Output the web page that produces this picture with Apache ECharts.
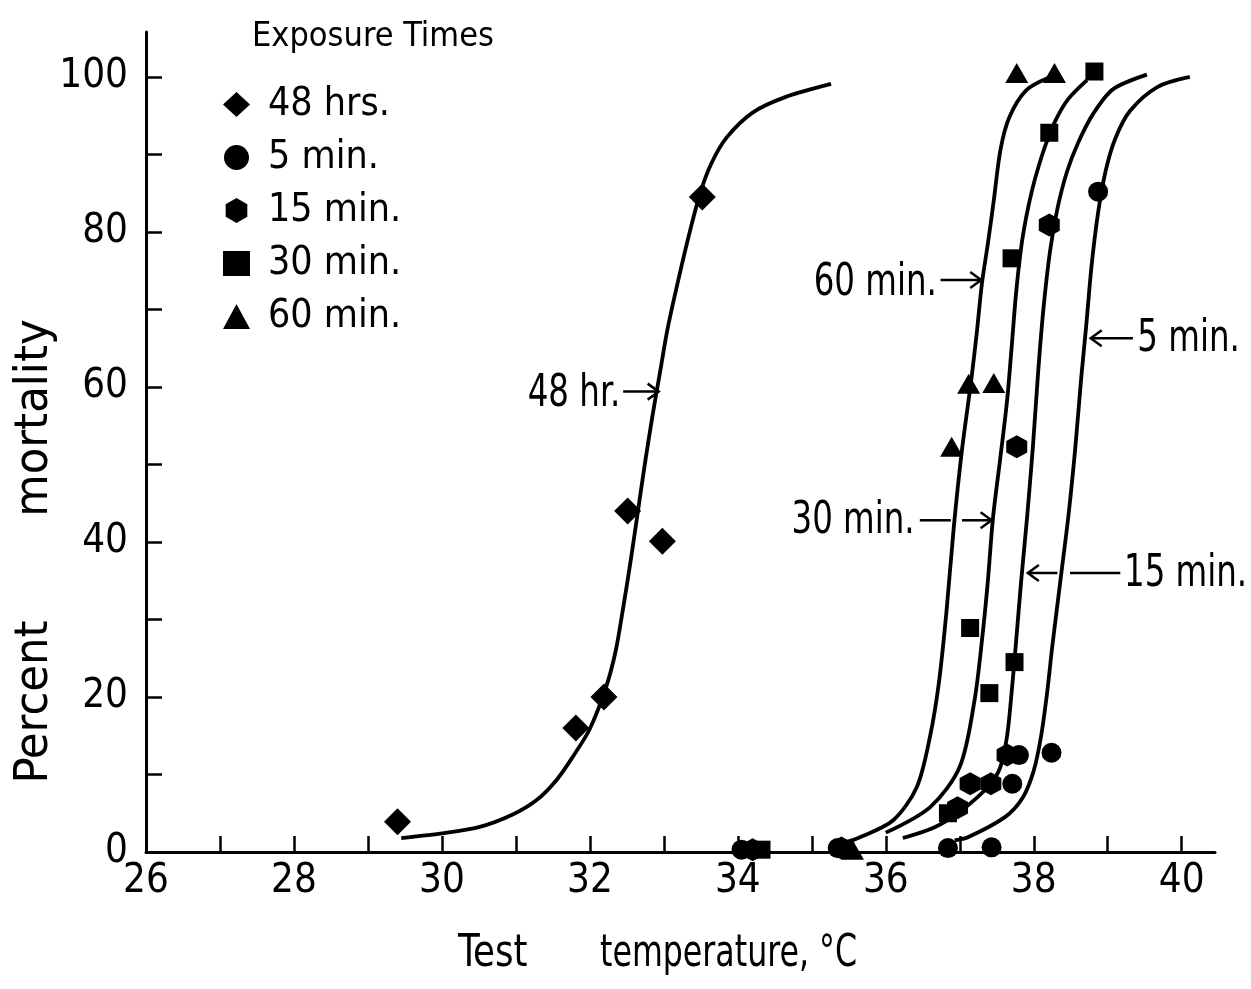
<!DOCTYPE html>
<html lang="en">
<head>
<meta charset="UTF-8">
<title>Percent mortality vs test temperature</title>
<script src="https://cdn.jsdelivr.net/npm/echarts@6.0.0/dist/echarts.min.js"></script>
<style>
    html, body { margin: 0; padding: 0; background: #fff; }
    #chart { width: 1251px; height: 989px; }
</style>
</head>
<body>
<div id="chart"></div>
<script>
// observed mortality, [test temperature degC, percent]
var hrs48 = [[29.40, 3.9], [31.81, 16.0], [32.19, 20.0], [32.51, 44.0], [32.98, 40.1], [33.52, 84.5]];
var min5 = [[34.05, 0.3], [35.35, 0.5], [36.84, 0.5], [37.43, 0.6], [37.71, 8.8], [37.80, 12.5], [38.24, 12.8], [38.87, 85.2]];
var min15 = [[34.2, 0.3], [35.4, 0.5], [36.97, 5.7], [37.14, 8.8], [37.42, 8.8], [37.64, 12.5], [37.77, 52.3], [38.21, 80.9]];
var min30 = [[34.32, 0.3], [35.45, 0.4], [36.84, 5.0], [37.14, 28.9], [37.40, 20.5], [37.74, 24.5], [37.70, 76.6], [38.21, 92.8], [38.82, 100.7]];
var min60 = [[35.55, 0.3], [36.89, 52.3], [37.12, 60.4], [37.46, 60.5], [37.77, 100.5], [38.28, 100.5]];

// fitted curves
var curve48h = [[29.45, 1.8], [30.0, 2.4], [30.5, 3.2], [30.95, 4.8], [31.28, 6.7], [31.55, 9.3], [31.77, 12.3], [32.0, 15.9],
    [32.22, 21.3], [32.35, 26], [32.45, 31.5], [32.55, 37.5], [32.65, 44], [32.75, 50.5], [32.85, 56.5], [32.95, 62],
    [33.05, 67.5], [33.2, 74], [33.35, 80], [33.5, 85.3], [33.65, 89], [33.85, 92.2], [34.2, 95.4], [34.64, 97.4], [35.26, 99.1]];
var curve60m = [[35.38, 1.0], [35.65, 1.9], [36.1, 4.1], [36.42, 8.4], [36.6, 15], [36.72, 22], [36.82, 31], [36.92, 42],
    [37.03, 51.9], [37.15, 60.5], [37.23, 67], [37.3, 73.4], [37.38, 78.5], [37.46, 84.1], [37.55, 90.6], [37.67, 94.8],
    [37.9, 98.3], [38.2, 99.9]];
var curve30m = [[36.0, 2.5], [36.6, 5.8], [37.0, 11], [37.2, 19.6], [37.31, 28.2], [37.38, 35], [37.45, 43.2], [37.55, 51],
    [37.64, 58.3], [37.7, 65], [37.76, 72], [37.83, 78], [37.9, 82], [37.98, 85.5], [38.07, 88.6], [38.17, 91.5],
    [38.3, 94.5], [38.47, 97.2], [38.72, 99.6]];
var curve15m = [[36.23, 1.8], [36.66, 3.2], [37.03, 5.4], [37.4, 8.6], [37.55, 11], [37.64, 15], [37.7, 20.5], [37.76, 27],
    [37.83, 35], [37.91, 43.2], [37.99, 52.5], [38.06, 62], [38.13, 70], [38.22, 77.5], [38.32, 83], [38.45, 87.8],
    [38.6, 91.5], [38.8, 95.2], [39.07, 98.4], [39.53, 100.3]];
var curve5m = [[36.93, 1.5], [37.11, 1.9], [37.61, 4.5], [37.85, 7.0], [38.0, 10.5], [38.1, 15], [38.18, 20.5], [38.25, 26.5],
    [38.36, 35], [38.47, 43.5], [38.56, 52], [38.64, 61], [38.71, 68], [38.78, 75.5], [38.87, 82.5], [38.97, 87.8],
    [39.1, 92], [39.3, 95.6], [39.67, 98.7], [40.11, 100]];

var xTickLabels = [26, 28, 30, 32, 34, 36, 38, 40];
var xTickMarks = [27, 28, 29, 30, 31, 32, 33, 34, 35, 36, 37, 38, 39, 40];
var yTickLabels = [0, 20, 40, 60, 80, 100];
var yTickMarks = [10, 20, 30, 40, 50, 60, 70, 80, 90, 100];

// curve labels
var noteTexts = ['48 hr.', '60 min.', '30 min.', '15 min.', '5 min.'];
var noteAt = [[32.41, 59.0], [36.69, 73.4], [36.39, 42.6], [39.22, 35.8], [39.4, 66.1]];
var noteAlign = ['right', 'right', 'right', 'left', 'left'];
// leader lines: from, to, with arrow head at "to"
var leaders = [
    [[32.45, 59.4], [32.93, 59.4], true],
    [[36.74, 73.8], [37.29, 73.8], true],
    [[36.46, 42.8], [36.88, 42.8], false],
    [[37.03, 42.8], [37.43, 42.8], true],
    [[39.17, 36.0], [38.49, 36.0], false],
    [[38.32, 36.0], [37.92, 36.0], true],
    [[39.34, 66.3], [38.77, 66.3], true]
];

var FONT = '"Liberation Sans Narrow", "DejaVu Sans Condensed", "Liberation Sans", sans-serif';
var hexagon = 'path://M0,-10 L8.66,-5 L8.66,5 L0,10 L-8.66,5 L-8.66,-5 Z';

var chart = echarts.init(document.getElementById('chart'));

function scatter(name, data, symbol, size) {
    return {
        name: name, type: 'scatter', data: data, symbol: symbol, symbolSize: size,
        itemStyle: { color: '#000', opacity: 1 }, z: 4, silent: true
    };
}
function curve(data) {
    return {
        type: 'line', data: data, smooth: 0.3, showSymbol: false, symbol: 'none',
        lineStyle: { color: '#000', width: 3.8 }, z: 3, silent: true
    };
}

var option = {
    backgroundColor: '#fff',
    animation: false,
    title: {
        text: 'Exposure Times', left: 247, top: 15,
        textStyle: { fontFamily: FONT, fontSize: 34, fontWeight: 'normal', color: '#000' }
    },
    legend: {
        orient: 'vertical', left: 218, top: 80,
        itemWidth: 27, itemHeight: 25, itemGap: 14,
        selectedMode: false,
        data: [
            { name: '48 hrs.', icon: 'diamond' },
            { name: '5 min.', icon: 'circle' },
            { name: '15 min.', icon: hexagon },
            { name: '30 min.', icon: 'rect' },
            { name: '60 min.', icon: 'triangle' }
        ],
        itemStyle: { color: '#000', opacity: 1 },
        textStyle: { fontFamily: FONT, fontSize: 39, color: '#000', padding: [0, 0, 0, 13] }
    },
    grid: { left: 146, right: 36, top: 32, bottom: 137, containLabel: false },
    xAxis: {
        type: 'value', min: 26, max: 40.45,
        axisLine: { lineStyle: { color: '#000', width: 3 } },
        axisTick: { show: true, inside: true, length: 16, customValues: xTickMarks, lineStyle: { color: '#000', width: 2.5 } },
        axisLabel: { customValues: xTickLabels, margin: 10, fontFamily: FONT, fontSize: 40, color: '#000' },
        splitLine: { show: false }
    },
    yAxis: {
        type: 'value', min: 0, max: 105.8,
        axisLine: { show: true, lineStyle: { color: '#000', width: 3 } },
        axisTick: { show: true, inside: true, length: 16, customValues: yTickMarks, lineStyle: { color: '#000', width: 2.5 } },
        axisLabel: { customValues: yTickLabels, margin: 18, fontFamily: FONT, fontSize: 40, color: '#000' },
        splitLine: { show: false }
    },
    series: [
        curve(curve48h), curve(curve60m), curve(curve30m), curve(curve15m), curve(curve5m),
        scatter('48 hrs.', hrs48, 'diamond', 27),
        scatter('5 min.', min5, 'circle', 20),
        scatter('15 min.', min15, hexagon, [21, 23]),
        scatter('30 min.', min30, 'rect', 18),
        scatter('60 min.', min60, 'triangle', [23, 20])
    ]
};
chart.setOption(option);

// axis titles and curve labels placed from data coordinates
function px(p) { return chart.convertToPixel({ gridIndex: 0 }, p); }
function word(text, x, y, align, size, sx, rot) {
    return {
        type: 'text', x: x, y: y, scaleX: sx, rotation: rot || 0,
        style: { text: text, font: size + 'px ' + FONT, fill: '#000', textAlign: align, textVerticalAlign: 'middle' }
    };
}
var g = [];
g.push(word('Test', 458, 955, 'left', 44, 0.9));
g.push(word('temperature, \u00b0C', 600, 955, 'left', 44, 0.8));
g.push(word('Percent', 35, 702, 'center', 46, 1.05, Math.PI / 2));
g.push(word('mortality', 35, 418, 'center', 46, 1.05, Math.PI / 2));
for (var i = 0; i < noteTexts.length; i++) {
    var p = px(noteAt[i]);
    g.push(word(noteTexts[i], p[0], p[1], noteAlign[i], 44, 0.82));
}
leaders.forEach(function (l) {
    var a = px(l[0]), b = px(l[1]);
    g.push({ type: 'line', shape: { x1: a[0], y1: a[1], x2: b[0], y2: b[1] }, style: { stroke: '#000', lineWidth: 2.5 } });
    if (l[2]) {
        var d = b[0] > a[0] ? -1 : 1;
        g.push({
            type: 'polyline',
            shape: { points: [[b[0] + d * 11, b[1] - 8], [b[0], b[1]], [b[0] + d * 11, b[1] + 8]] },
            style: { stroke: '#000', lineWidth: 2.5, fill: null }
        });
    }
});
chart.setOption({ graphic: g });
</script>
</body>
</html>
